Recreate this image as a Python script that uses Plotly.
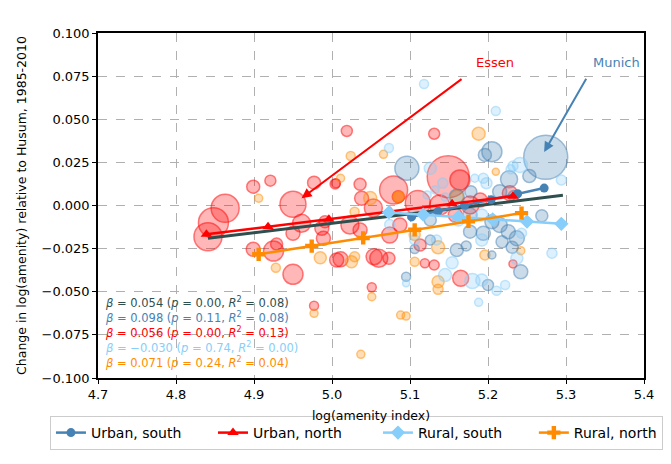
import plotly.graph_objects as go

# ---------------- data ----------------
# Bubbles: amenity index (x), change in log amenity (y), bubble size (population proxy)
un_x = [4.863, 4.848, 4.841, 4.899, 4.921, 4.950, 4.961, 4.950, 4.899, 4.925, 4.929, 4.950, 4.977, 4.989,
        4.991, 5.004, 5.006, 5.019, 5.036, 5.038, 5.051, 5.011, 5.054, 5.073, 5.060, 5.079, 5.053, 5.036,
        5.074, 5.110, 5.149, 5.131, 4.977, 5.119, 5.131, 5.165, 5.232, 5.228, 5.023, 5.005, 5.085, 5.177,
        5.138, 5.158, 5.087, 5.113, 5.164, 5.190, 4.987]
un_y = [-0.0016, -0.0100, -0.0181, 0.0109, 0.0144, 0.0007, -0.0103, -0.0161, -0.0254, -0.0264, -0.0223,
        -0.0399, 0.0132, -0.0190, -0.0094, 0.0125, -0.0316, 0.0432, 0.0123, 0.0042, -0.0474, -0.0312,
        -0.0297, -0.0306, -0.0306, 0.0090, -0.0014, -0.0142, -0.0171, 0.0014, 0.0167, 0.0416, -0.0581,
        -0.0335, -0.0345, -0.0422, -0.0339, 0.0071, -0.0113, 0.0129, 0.0051, 0.0003, 0.0003, -0.0055,
        -0.0113, -0.0229, 0.0148, 0.0032, -0.0132]
un_s = [28, 30, 28, 13, 11, 26, 18, 14, 14, 20, 12, 20, 13, 14, 12, 10, 14, 11, 12, 14, 9, 15, 16, 12, 18,
        28, 18, 14, 16, 25, 42, 11, 9, 9, 10, 16, 8, 15, 18, 9, 12, 18, 20, 14, 14, 12, 20, 14, 14]

rn_x = [4.906, 4.928, 4.985, 5.024, 5.011, 5.066, 5.051, 5.025, 5.029, 4.977, 5.088, 5.095, 5.037, 5.106,
        5.136, 5.136, 5.136, 5.188, 5.210, 5.242, 5.196, 5.049, 5.085, 5.106, 5.029, 5.160, 5.086]
rn_y = [0.0042, -0.0361, -0.0303, 0.0287, 0.0158, 0.0297, -0.0529, -0.0326, -0.0297, -0.0625, -0.0635,
        -0.0641, -0.0863, -0.0326, -0.0442, -0.0486, -0.0242, 0.0416, 0.0196, -0.0262, -0.0287, 0.0043,
        0.0049, -0.0171, -0.0036, 0.0051, 0.0054]
rn_s = [8, 9, 12, 9, 8, 8, 8, 12, 10, 8, 8, 8, 8, 9, 12, 10, 13, 13, 7, 8, 10, 13, 11, 11, 9, 13, 10]

us_x = [5.096, 5.205, 5.196, 5.227, 5.253, 5.274, 5.269, 5.242, 5.231, 5.205, 5.200, 5.160, 5.172, 5.106,
        5.095, 5.215, 5.178, 5.160, 5.177, 5.205, 5.215, 5.226, 5.237, 5.194, 5.177, 5.126, 5.218, 5.233,
        5.126]
us_y = [0.0216, 0.0312, 0.0293, 0.0152, 0.0171, 0.0279, -0.0059, -0.0384, -0.0242, -0.0287, -0.0461,
        -0.0258, -0.0235, -0.0252, -0.0413, 0.0080, 0.0080, 0.0051, -0.0055, -0.0094, -0.0113, -0.0152,
        -0.0190, -0.0161, -0.0152, -0.0200, -0.0210, 0.0055, -0.0084]
us_s = [24, 20, 13, 17, 13, 44, 12, 14, 12, 8, 11, 13, 10, 9, 9, 14, 12, 15, 14, 14, 15, 14, 15, 14, 13,
        10, 12, 11, 12]

rs_x = [5.073, 5.118, 5.210, 5.241, 5.229, 5.294, 5.282, 5.237, 5.222, 5.211, 5.192, 5.180, 5.188, 5.145,
        5.154, 5.095, 5.126, 5.142, 5.194, 5.183, 5.198, 5.192, 5.162, 5.192, 5.243, 5.134, 5.232, 5.132,
        5.145, 5.122, 5.106, 5.074]
rs_y = [0.0333, 0.0704, 0.0548, 0.0235, 0.0210, 0.0148, -0.0277, -0.0306, -0.0461, -0.0494, -0.0432,
        -0.0438, -0.0561, -0.0403, -0.0332, -0.0451, 0.0216, 0.0130, 0.0158, 0.0158, 0.0129, -0.0055,
        -0.0084, -0.0200, -0.0161, -0.0200, 0.0229, 0.0090, 0.0049, 0.0061, -0.0200, -0.0110]
rs_s = [9, 9, 9, 15, 9, 10, 10, 12, 9, 9, 12, 15, 8, 13, 12, 7, 12, 10, 10, 8, 11, 12, 12, 12, 10, 10, 10,
        8, 8, 8, 10, 10]

# Fitted lines (group-wise)
fit_all_x = [4.841, 5.296]
fit_all_y = [-0.0190, 0.0059]
fit_us_x = [5.102, 5.136, 5.170, 5.204, 5.238, 5.272]
fit_us_y = [-0.0066, -0.0033, 0.0001, 0.0034, 0.0068, 0.0101]
fit_un_x = [4.839, 4.918, 4.996, 5.075, 5.154, 5.232]
fit_un_y = [-0.0167, -0.0123, -0.0079, -0.0035, 0.0010, 0.0054]
fit_rs_x = [5.073, 5.117, 5.162, 5.206, 5.250, 5.294]
fit_rs_y = [-0.0040, -0.0053, -0.0067, -0.0080, -0.0093, -0.0106]
fit_rn_x = [4.906, 4.974, 5.040, 5.106, 5.175, 5.243]
fit_rn_y = [-0.0283, -0.0235, -0.0188, -0.0141, -0.0092, -0.0044]

series_names = ["Urban, south", "Urban, north", "Rural, south", "Rural, north"]

stats_lines = [
    ("#2F4F4F", "0.054", "0.00", "0.08"),
    ("#4682B4", "0.098", "0.11", "0.08"),
    ("#FF0000", "0.056", "0.00", "0.13"),
    ("#87CEFA", "\u22120.030", "0.74", "0.00"),
    ("#FF8C00", "0.071", "0.24", "0.04"),
]

FONT = "DejaVu Sans"
NB = "\u00a0"
pad = [6, 7, 6, 0]  # legend spacing (non-breaking spaces)
leg_names = [n + NB * k for n, k in zip(series_names, pad)]

fig = go.Figure()

def bubbles(x, y, s, rgb):
    fig.add_trace(go.Scatter(
        x=x, y=y, mode="markers", showlegend=False, hoverinfo="skip",
        marker=dict(size=s, sizemode="diameter",
                    color="rgba(%d,%d,%d,0.40)" % rgb,
                    line=dict(color="rgba(%d,%d,%d,0.75)" % rgb, width=1.5))))

bubbles(un_x, un_y, un_s, (255, 0, 0))
bubbles(rn_x, rn_y, rn_s, (255, 140, 0))
bubbles(us_x, us_y, us_s, (70, 130, 180))
bubbles(rs_x, rs_y, rs_s, (135, 206, 250))

fig.add_trace(go.Scatter(x=fit_all_x, y=fit_all_y, mode="lines", showlegend=False,
                         line=dict(color="#2F4F4F", width=3)))
fig.add_trace(go.Scatter(x=fit_us_x, y=fit_us_y, mode="lines+markers", name=leg_names[0],
                         line=dict(color="#4682B4", width=2.5),
                         marker=dict(symbol="circle", size=9, color="#4682B4")))
fig.add_trace(go.Scatter(x=fit_un_x, y=fit_un_y, mode="lines+markers", name=leg_names[1],
                         line=dict(color="#FF0000", width=2.5),
                         marker=dict(symbol="triangle-up", size=10, color="#FF0000")))
fig.add_trace(go.Scatter(x=fit_rs_x, y=fit_rs_y, mode="lines+markers", name=leg_names[2],
                         line=dict(color="#87CEFA", width=2.5),
                         marker=dict(symbol="diamond", size=11, color="#87CEFA")))
fig.add_trace(go.Scatter(x=fit_rn_x, y=fit_rn_y, mode="lines+markers", name=leg_names[3],
                         line=dict(color="#FF8C00", width=2.5),
                         marker=dict(symbol="cross", size=11, color="#FF8C00")))

# Arrows and labels
fig.add_annotation(x=4.961, y=0.0042, ax=5.168, ay=0.0739, xref="x", yref="y", axref="x", ayref="y",
                   text="", showarrow=True, arrowhead=2, arrowsize=1, arrowwidth=2, arrowcolor="#FF0000")
fig.add_annotation(x=5.272, y=0.0310, ax=5.327, ay=0.0743, xref="x", yref="y", axref="x", ayref="y",
                   text="", showarrow=True, arrowhead=2, arrowsize=1, arrowwidth=2, arrowcolor="#4682B4")
fig.add_annotation(x=5.209, y=0.0830, xref="x", yref="y", text="Essen", showarrow=False,
                   font=dict(family=FONT, size=13, color="#FF0000"))
fig.add_annotation(x=5.365, y=0.0830, xref="x", yref="y", text="Munich", showarrow=False,
                   font=dict(family=FONT, size=13, color="#4682B4"))

txt = "<br>".join(
    '<span style="color:%s"><i>β</i> = %s (<i>p</i> = %s, <i>R</i><sup>2</sup> = %s)</span>' % (c, b, p, r)
    for c, b, p, r in stats_lines)
fig.add_annotation(x=4.706, y=-0.0505, xref="x", yref="y", xanchor="left", yanchor="top",
                   align="left", text=txt, showarrow=False, font=dict(family=FONT, size=11.5))

fig.update_layout(
    width=671, height=464,
    margin=dict(l=98, r=27, t=33, b=86),
    paper_bgcolor="white", plot_bgcolor="white",
    font=dict(family=FONT, size=12, color="black"),
    legend=dict(orientation="h", x=-0.088, y=-0.2087, xanchor="left", yanchor="bottom",
                bgcolor="white", bordercolor="#cccccc", borderwidth=1,
                font=dict(family=FONT, size=14), traceorder="normal"),
)
fig.update_xaxes(range=[4.7, 5.4], dtick=0.1, tick0=4.7, tickformat=".1f", automargin=False,
                 showgrid=True, gridcolor="#b0b0b0", griddash="dash", gridwidth=1,
                 showline=True, linecolor="black", linewidth=1.5, mirror=True,
                 ticks="outside", ticklen=4, tickcolor="black", zeroline=False,
                 tickfont=dict(family=FONT, size=13),
                 title=dict(text="log(amenity index)", font=dict(family=FONT, size=12.5), standoff=10))
fig.update_yaxes(range=[-0.1, 0.1], dtick=0.025, tick0=0, tickformat=".3f", automargin=False,
                 showgrid=True, gridcolor="#b0b0b0", griddash="dash", gridwidth=1,
                 showline=True, linecolor="black", linewidth=1.5, mirror=True,
                 ticks="outside", ticklen=4, tickcolor="black", zeroline=False,
                 tickfont=dict(family=FONT, size=13),
                 title=dict(text="Change in log(amenity) relative to Husum, 1985-2010",
                            font=dict(family=FONT, size=12.5), standoff=12))

fig.write_html("out.html", config={"displayModeBar": False},
               post_script="document.body.style.margin='0';document.body.style.overflow='hidden';")
